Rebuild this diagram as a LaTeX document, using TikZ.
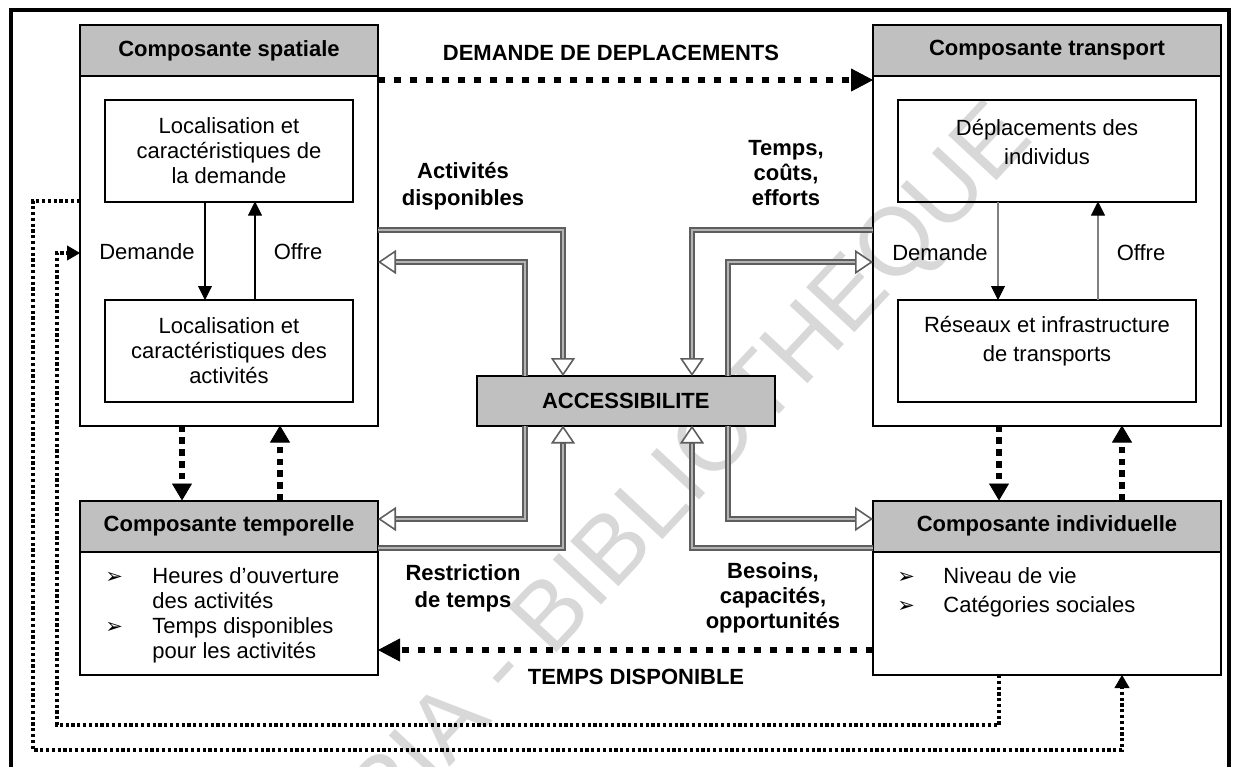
\documentclass[tikz,border=0pt]{standalone}
\usepackage{fontspec}
\setmainfont{Liberation Sans}
\newfontfamily\dingfont{DejaVu Sans}
\usetikzlibrary{arrows.meta,positioning}
\definecolor{headC}{HTML}{C0C0C0}
\definecolor{pipeC}{HTML}{5E5E5E}
\definecolor{pipeIn}{HTML}{B4B4B4}
\definecolor{markC}{HTML}{D8D8D8}

\tikzset{
  headbox/.style={draw, line width=1pt, fill=headC, outer sep=0pt, inner sep=0pt,
    minimum height=25.5pt, font=\bfseries},
  bodybox/.style={draw, line width=1pt, outer sep=0pt, inner sep=0pt},
  innerbox/.style={draw, line width=1pt, outer sep=0pt, inner sep=0pt,
    minimum height=50.75pt, align=center},
  txt/.style={align=center, inner sep=0pt},
  lbl/.style={inner sep=1pt},
  boldlbl/.style={font=\bfseries, align=center, inner sep=1pt},
  listtxt/.style={inner sep=0pt},
  wmark/.style={text=markC, font=\fontsize{48}{48}\selectfont, rotate=47},
  flow/.style={line width=1pt, -{Triangle[length=7pt, width=7pt, line width=0.4pt]}},
  flowgray/.style={line width=1pt, draw=gray, -{Triangle[length=7pt, width=7pt, line width=0.4pt, color=black]}},
  hollow/.style={draw=pipeC, line width=2.6pt,
    -{Triangle[open, fill=white, length=9pt, width=12pt, line width=0.8pt]},
    postaction={draw=pipeIn, line width=0.9pt, arrows=-, shorten >=9pt}},
  bigdots/.style={line width=3.2pt, dash pattern=on 3.4pt off 4.6pt,
    -{Triangle[length=11pt, width=11.5pt, line width=0.4pt]}},
  vdots/.style={line width=3.2pt, dash pattern=on 3.3pt off 2.6pt,
    -{Triangle[length=8.5pt, width=10pt, line width=0.4pt]}},
  smalldots/.style={line width=1.7pt, dash pattern=on 1.6pt off 1.3pt,
    -{Triangle[length=6.5pt, width=7.5pt, line width=0.4pt]}}
}
\newcommand{\bul}{{\dingfont\fontsize{10.5}{10}\selectfont ➢}}

\begin{document}
\fontsize{11}{12.5}\selectfont
\begin{tikzpicture}[x=5pt,y=-5pt]
  \useasboundingbox (0,0) rectangle (123.9,76.7);

  % watermark
  \node[wmark] (wmarkTxt) at (69.2,47.2) {RIA - BIBLIOTHEQUE};

  % frame
  \draw[line width=2pt] (1.05,76.7) -- (1.05,0.95) -- (122.9,0.95) -- (122.9,76.7);

  % spatial component
  \node[headbox, minimum width=149pt] (spatHead) at (22.9,5.05) {Composante spatiale};
  \node[bodybox, minimum width=149pt, minimum height=174.75pt, below=0pt of spatHead] (spatBox) {};
  \node[innerbox, minimum width=124pt, below=12pt of spatHead] (demLoc)
    {Localisation et\\caractéristiques de\\la demande};
  \node[innerbox, minimum width=124pt, below=49.25pt of demLoc] (actLoc)
    {Localisation et\\caractéristiques des\\activités};
  \draw[flow] (demLoc.south -| 20.5,0) -- (actLoc.north -| 20.5,0);
  \draw[flow] (actLoc.north -| 25.5,0) -- (demLoc.south -| 25.5,0);
  \node[lbl] (demLabA) at (14.7,25.2) {Demande};
  \node[lbl] (offLabA) at (29.8,25.2) {Offre};

  % transport component
  \node[headbox, minimum width=174pt] (transHead) at (104.7,5.05) {Composante transport};
  \node[bodybox, minimum width=174pt, minimum height=174.75pt, below=0pt of transHead] (transBox) {};
  \node[innerbox, minimum width=149pt, below=12pt of transHead] (deplBox) {};
  \node[txt] (deplTxt) at ([yshift=4.5pt]deplBox.center) {Déplacements des\\[2pt]individus};
  \node[innerbox, minimum width=149pt, below=49.25pt of deplBox] (resBox) {};
  \node[txt] (resTxt) at ([yshift=5pt]resBox.center) {Réseaux et infrastructure\\[2pt]de transports};
  \draw[flowgray] (deplBox.south -| 99.8,0) -- (resBox.north -| 99.8,0);
  \draw[flowgray] (resBox.north -| 109.8,0) -- (deplBox.south -| 109.8,0);
  \node[lbl] (demLabB) at (94.0,25.3) {Demande};
  \node[lbl] (offLabB) at (114.1,25.3) {Offre};

  % temporal component
  \node[headbox, minimum width=149pt] (tempHead) at (22.9,52.6) {Composante temporelle};
  \node[bodybox, minimum width=149pt, minimum height=61.75pt, below=0pt of tempHead] (tempBox) {};
  \node[listtxt, anchor=north west] (tempList) at (10.5,56.55)
    {\begin{tabular}{@{}p{23.5pt}@{}l@{}}
      \bul & Heures d'ouverture\\
      & des activités\\
      \bul & Temps disponibles\\
      & pour les activités
    \end{tabular}};

  % individual component
  \node[headbox, minimum width=174pt] (indHead) at (104.7,52.6) {Composante individuelle};
  \node[bodybox, minimum width=174pt, minimum height=61.75pt, below=0pt of indHead] (indBox) {};
  \node[listtxt, anchor=north west] (indList) at (89.7,56.55)
    {\begin{tabular}{@{}p{23pt}@{}l@{}}
      \bul & Niveau de vie\\[2pt]
      \bul & Catégories sociales
    \end{tabular}};

  % accessibility
  \node[headbox, minimum width=149pt, minimum height=24.75pt] (access) at (62.58,40.08) {ACCESSIBILITE};

  % hollow links to and from accessibility
  \draw[hollow] (spatBox.east |- 0,23.0) -| (access.north -| 56.3,0);
  \draw[hollow] (access.north -| 52.5,0) |- (spatBox.east |- 0,26.2);
  \draw[hollow] (transBox.west |- 0,23.0) -| (access.north -| 69.2,0);
  \draw[hollow] (access.north -| 72.8,0) |- (transBox.west |- 0,26.2);
  \draw[hollow] (access.south -| 52.5,0) |- (tempHead.east |- 0,51.9);
  \draw[hollow] (tempHead.east |- 0,54.8) -| (access.south -| 56.3,0);
  \draw[hollow] (access.south -| 72.8,0) |- (indHead.west |- 0,51.9);
  \draw[hollow] (indHead.west |- 0,54.8) -| (access.south -| 69.2,0);

  \node[boldlbl] (actLab) at (46.3,18.6) {Activités\\[1pt]disponibles};
  \node[boldlbl] (costLab) at (78.6,17.3) {Temps,\\coûts,\\efforts};
  \node[boldlbl] (restLab) at (46.3,58.8) {Restriction\\[1pt]de temps};
  \node[boldlbl] (needLab) at (77.3,59.8) {Besoins,\\capacités,\\opportunités};

  % thick dotted flows
  \draw[bigdots] (spatBox.east |- 0,8.0) -- (transBox.west |- 0,8.0);
  \node[boldlbl] (tripLab) at (61.1,5.3) {DEMANDE DE DEPLACEMENTS};
  \draw[bigdots] (indBox.west |- 0,65.0) -- (tempBox.east |- 0,65.0);
  \node[boldlbl] (timeLab) at (63.6,67.7) {TEMPS DISPONIBLE};
  \draw[vdots] (spatBox.south -| 18.2,0) -- (tempHead.north -| 18.2,0);
  \draw[vdots] (tempHead.north -| 28.0,0) -- (spatBox.south -| 28.0,0);
  \draw[vdots] (transBox.south -| 99.9,0) -- (indHead.north -| 99.9,0);
  \draw[vdots] (indHead.north -| 112.2,0) -- (transBox.south -| 112.2,0);

  % thin dotted loops
  \draw[smalldots] (spatBox.west |- 0,20.1) -| (3.3,75.0) -| (indBox.south -| 112.2,0);
  \draw[smalldots] (indBox.south -| 99.9,0) |- (5.7,72.5) |- (spatBox.west |- 0,25.3);
\end{tikzpicture}
\end{document}
